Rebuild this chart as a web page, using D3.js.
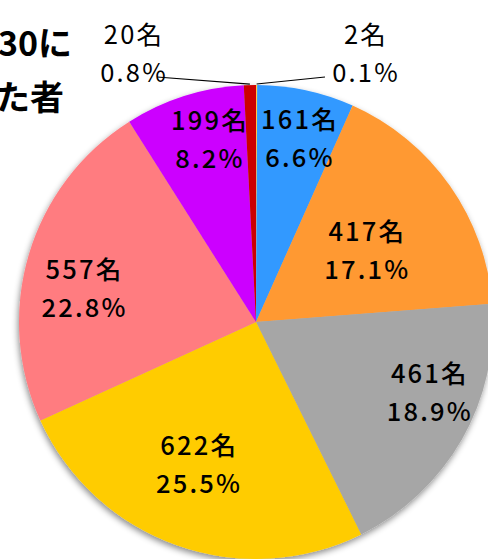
<!DOCTYPE html>
<html><head><meta charset="utf-8">
<script src="https://cdn.jsdelivr.net/npm/d3@7"></script>
<style>
html,body{margin:0;padding:0;background:#fff;overflow:hidden;}
svg{display:block;}
text{font-family:"Noto Sans CJK JP","Noto Sans",sans-serif;fill:#000;}
</style></head>
<body>
<script>
// data
const categories = ["A","B","C","D","E","F","G","H"];
const counts = [2, 161, 417, 461, 622, 557, 199, 20];
const percents = ["0.1%", "6.6%", "17.1%", "18.9%", "25.5%", "22.8%", "8.2%", "0.8%"];
const colors = ["#FFC84A", "#3399FF", "#FF9933", "#A6A6A6", "#FFCC00", "#FF7C80", "#CC00FF", "#CC0000"];
const titleLines = ["30に", "た者"];

// layout (label placement, not data)
const labelLayout = [
  {outside:true, x:366, y:52},
  {da:1.2, r:190},
  {da:2, r:133},
  {da:-8, r:187},
  {da:2.4, r:152},
  {da:-5, r:175},
  {da:3.6, r:190},
  {outside:true, x:134, y:52}
];

const W = 488, H = 559;
const cx = 256, cy = 322, R = 237;

const svg = d3.select("body").append("svg").attr("width", W).attr("height", H);
const defs = svg.append("defs");
const f = defs.append("filter").attr("id","sh").attr("x","-20%").attr("y","-20%").attr("width","140%").attr("height","140%");
f.append("feDropShadow").attr("dx",-1).attr("dy",3).attr("stdDeviation",3).attr("flood-color","#000").attr("flood-opacity",0.45);

const pie = d3.pie().sort(null).value(d => d);
const arcs = pie(counts);
const arc = d3.arc().innerRadius(0).outerRadius(R);

const g = svg.append("g").attr("transform", `translate(${cx},${cy})`);
g.append("g").attr("filter","url(#sh)")
  .selectAll("path").data(arcs).join("path")
  .attr("d", arc).attr("fill", (d,i) => colors[i]);

// labels
arcs.forEach((d,i) => {
  const L = labelLayout[i];
  let x, y;
  if (L.outside) {
    x = L.x - cx; y = L.y - cy;
  } else {
    const a = (d.startAngle + d.endAngle)/2 + L.da*Math.PI/180;
    x = L.r*Math.sin(a); y = -L.r*Math.cos(a);
  }
  const fs = 25.5;
  [[counts[i] + "名", y - 8], [percents[i], y + 30]].forEach(([s, yy]) => {
    g.append("text").attr("text-anchor","middle")
      .attr("x", x).attr("y", yy)
      .attr("font-size", fs).attr("font-weight", L.outside ? 400 : 500)
      .attr("letter-spacing", 2.2).text(s);
  });
});

// leader lines
const lineGen = d3.line();
const ang0 = (arcs[0].startAngle + arcs[0].endAngle)/2;
const ang7 = (arcs[7].startAngle + arcs[7].endAngle)/2;
const p0 = [ (R+1)*Math.sin(ang0), -(R+1)*Math.cos(ang0) ];
const p7 = [ (R+1)*Math.sin(ang7), -(R+1)*Math.cos(ang7) ];
g.append("path").attr("d", lineGen([p0, [325-cx, 77-cy]])).attr("stroke","#000").attr("stroke-width",1.2).attr("fill","none");
g.append("path").attr("d", lineGen([p7, [157-cx, 77-cy]])).attr("stroke","#000").attr("stroke-width",1.2).attr("fill","none");

// title (partially cut, as in the reference)
svg.append("text").attr("x", -2).attr("y", 56).attr("font-size", 34).attr("font-weight", 700).text(titleLines[0]);
svg.append("text").attr("x", -4).attr("y", 110).attr("font-size", 34).attr("font-weight", 700).text(titleLines[1]);
</script>
</body></html>
